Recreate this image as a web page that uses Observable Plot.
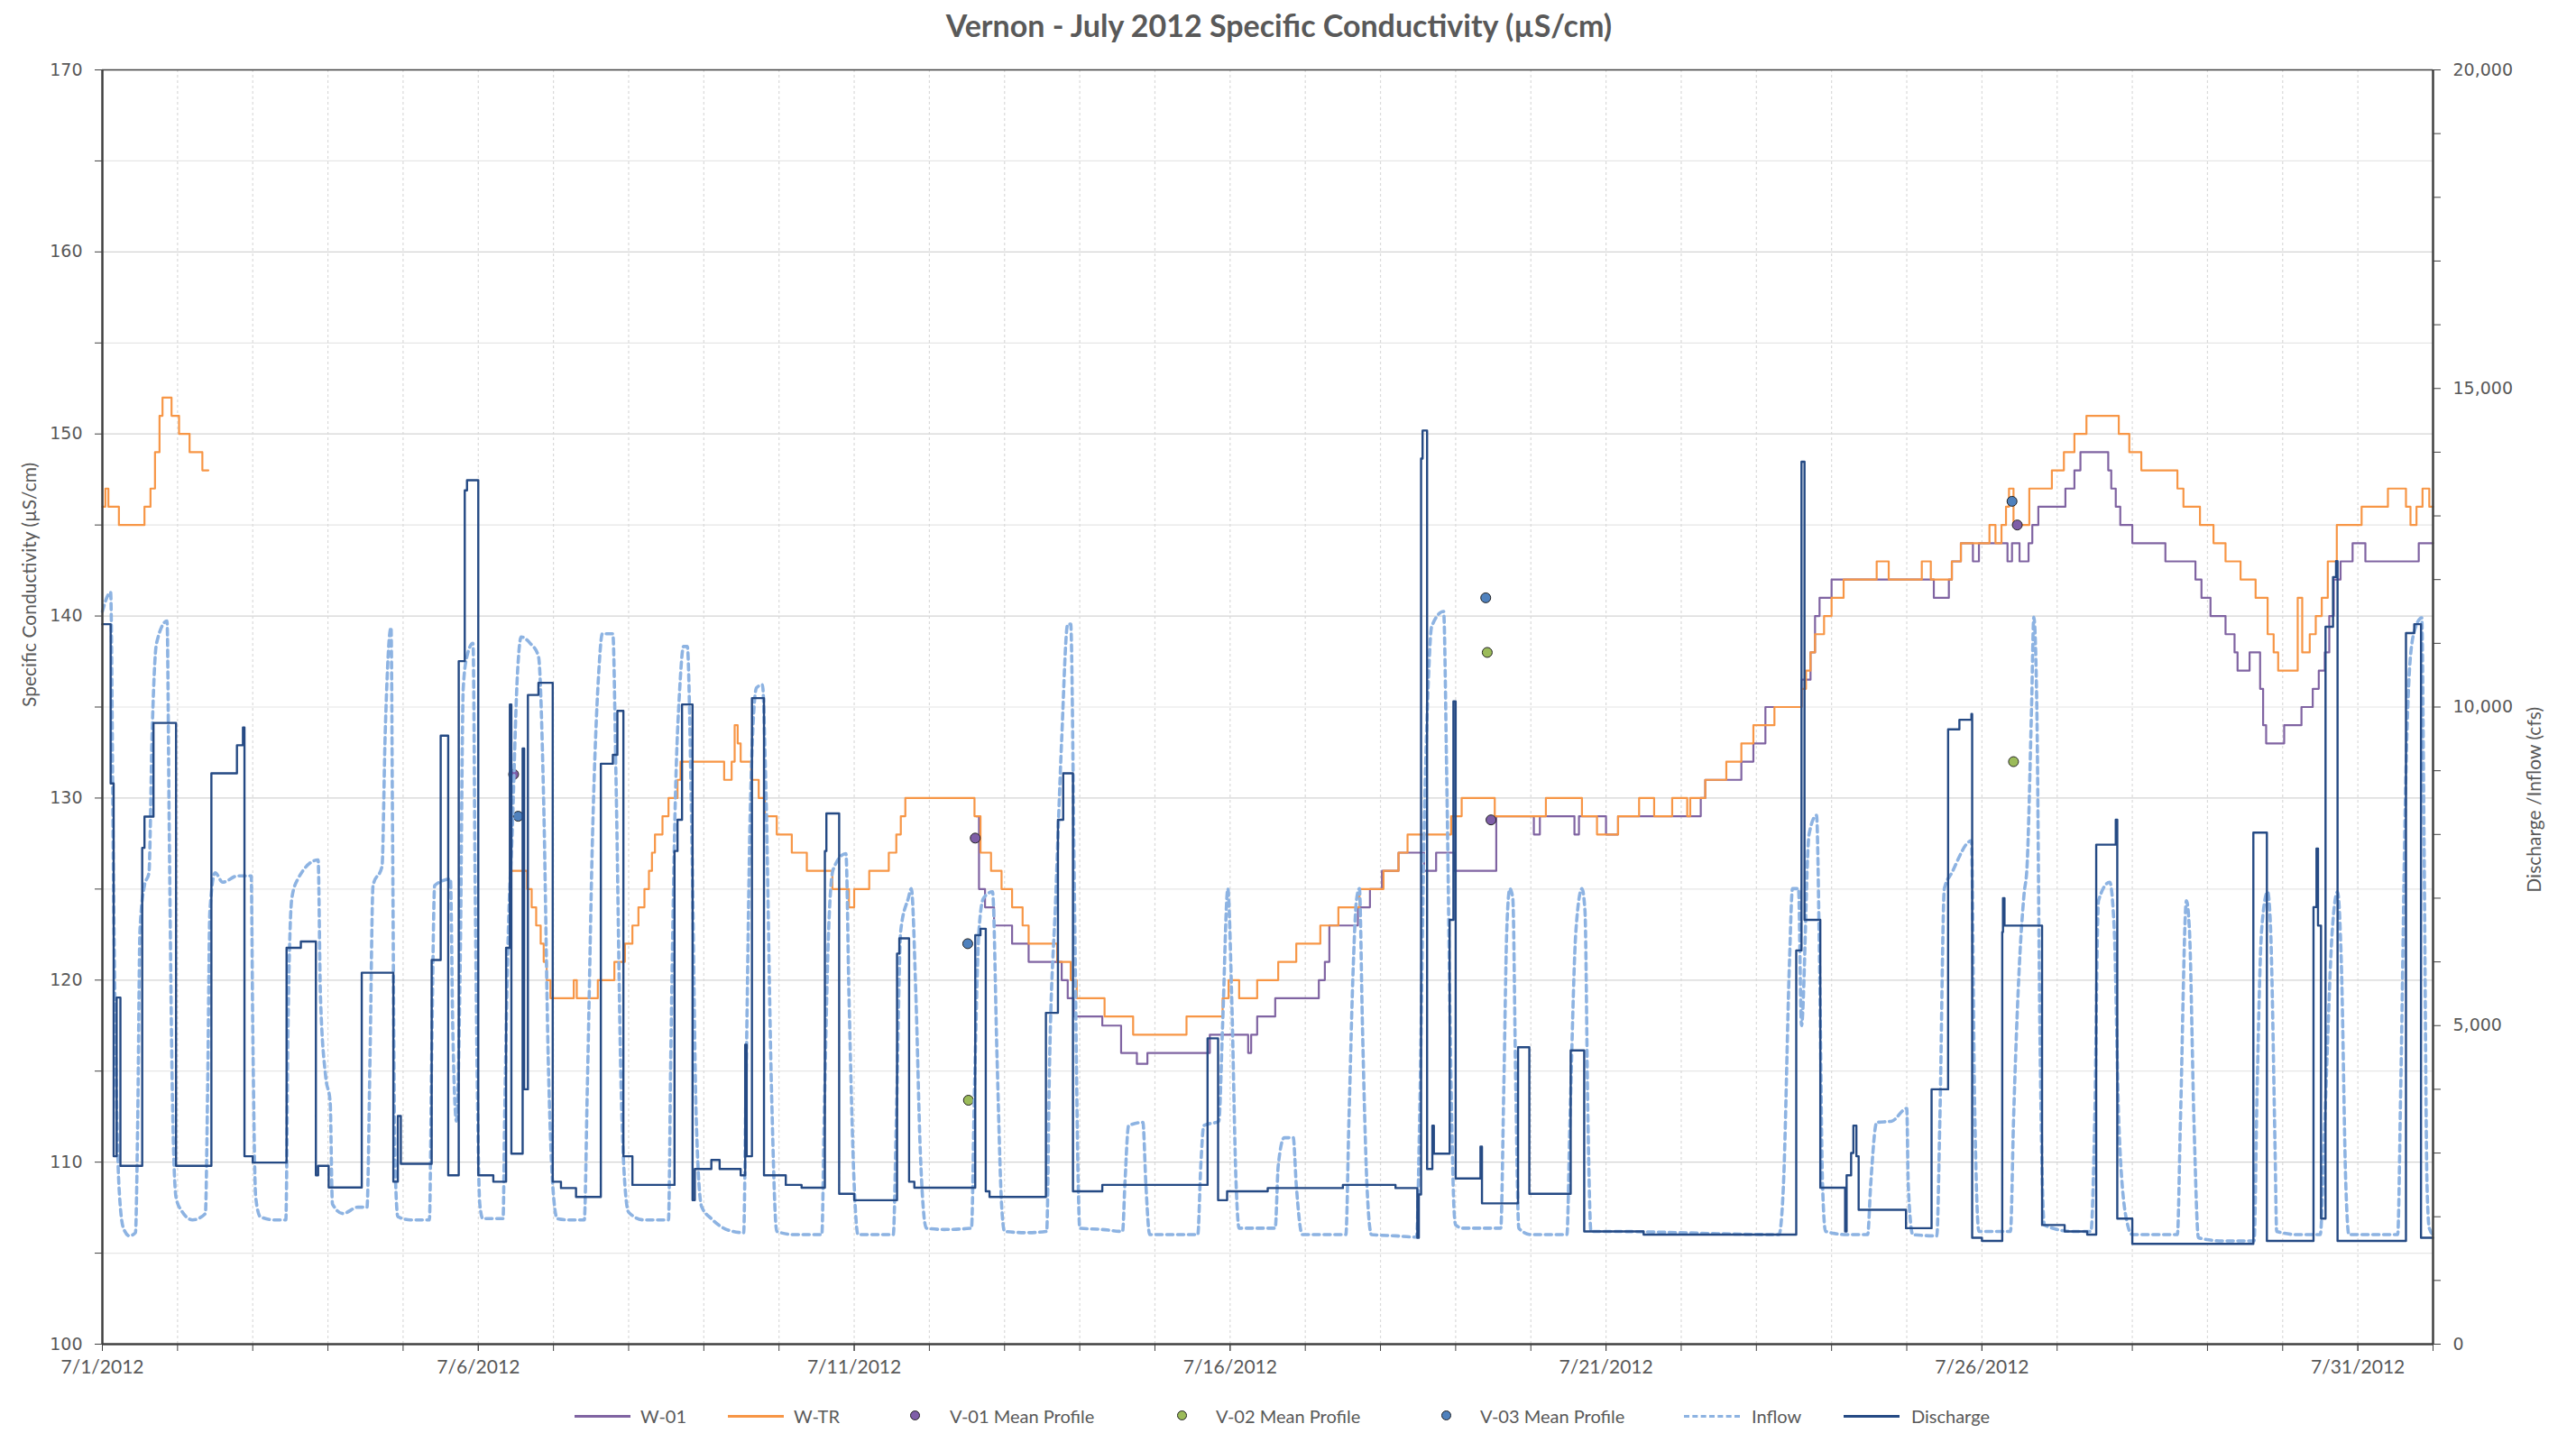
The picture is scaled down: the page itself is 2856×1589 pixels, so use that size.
<!DOCTYPE html>
<html><head><meta charset="utf-8">
<script src="https://cdn.jsdelivr.net/npm/d3@7"></script>
<script src="https://cdn.jsdelivr.net/npm/@observablehq/plot@0.6"></script>
<style>
body{margin:0;background:#fff;width:2856px;height:1589px;position:relative;overflow:hidden;font-family:Lato,"Open Sans",sans-serif;}
#title{position:absolute;left:0;top:0;width:2856px;height:55px;line-height:55px;text-align:center;font-weight:bold;font-size:34px;color:#595959;padding-right:20px;box-sizing:border-box;}
#chart{position:absolute;left:0;top:55px;}
#legend{position:absolute;left:0;top:1550px;width:2856px;height:40px;}
.li{position:absolute;top:0;height:40px;line-height:40px;font-size:20px;color:#595959;}
.sw{position:absolute;top:19px;height:0;}
.mk{position:absolute;top:14px;width:11px;height:11px;border-radius:50%;border:1px solid #222;box-sizing:border-box;}
</style></head><body>
<div id="title">Vernon - July 2012 Specific Conductivity (µS/cm)</div>
<div id="chart"></div>
<div id="legend"></div>
<script>
// ---------- data (day offset from 7/1/2012 00:00, value) ----------
const seriesNames = ["W-01","W-TR","V-01 Mean Profile","V-02 Mean Profile","V-03 Mean Profile","Inflow","Discharge"];
const xTickDays = [0,5,10,15,20,25,30];
const xTickLabels = ["7/1/2012","7/6/2012","7/11/2012","7/16/2012","7/21/2012","7/26/2012","7/31/2012"];
const leftTicks = [100,110,120,130,140,150,160,170];
const rightTicks = [0,5000,10000,15000,20000];
const leftTitle = "Specific Conductivity (µS/cm)";
const rightTitle = "Discharge /Inflow (cfs)";

// Specific conductivity, µS/cm (step series)
const wTR = [
[0,146],[0.04,147],[0.08,146],[0.22,145],[0.56,146],[0.64,147],[0.70,149],[0.76,151],[0.80,152],[0.92,151],[1.02,150],[1.16,149],[1.33,148],[1.41,148],[1.42,null],
[5.45,126],[5.65,125],[5.71,124],[5.77,123],[5.83,122],[5.87,121],[5.91,120],[5.96,119],[6.27,120],[6.31,119],[6.59,120],[6.81,121],[6.95,122],[7.05,123],[7.13,124],[7.21,125],[7.27,126],[7.31,127],[7.35,128],[7.45,129],[7.53,130],[7.65,131],[7.69,132],[8.27,131],[8.37,132],[8.41,134],[8.45,133],[8.49,132],[8.63,131],[8.73,130],[8.81,129],[8.97,128],[9.17,127],[9.37,126],[9.71,125],[9.93,124],[10.0,125],[10.2,126],[10.46,127],[10.56,128],[10.62,129],[10.68,130],[11.6,129],[11.68,127],[11.82,126],[11.96,125],[12.1,124],[12.24,123],[12.32,122],[12.7,121],[12.88,120],[12.96,119],[13.33,118],[13.71,117],[14.42,118],[14.9,119],[14.98,120],[15.12,119],[15.36,120],[15.64,121],[15.88,122],[16.2,123],[16.44,124],[16.72,125],[17.04,126],[17.24,127],[17.36,128],[17.94,129],[18.08,130],[18.52,129],[19.2,130],[19.68,129],[19.88,128],[20.16,129],[20.44,130],[20.64,129],[20.88,130],[21.08,129],[21.12,130],[21.32,131],[21.6,132],[21.8,133],[21.96,134],[22.24,135],[22.6,136],[22.66,137],[22.72,138],[22.78,139],[22.9,140],[23.0,141],[23.16,142],[23.6,143],[23.76,142],[24.2,143],[24.32,142],[24.6,143],[24.72,144],[25.1,145],[25.18,144],[25.26,145],[25.32,146],[25.36,147],[25.42,145],[25.63,147],[25.93,148],[26.09,149],[26.23,150],[26.39,151],[26.82,150],[26.96,149],[27.12,148],[27.6,147],[27.68,146],[27.9,145],[28.08,144],[28.24,143],[28.44,142],[28.64,141],[28.8,139],[28.88,138],[28.94,137],[29.2,141],[29.26,138],[29.36,139],[29.44,140],[29.52,141],[29.6,143],[29.72,145],[30.05,146],[30.4,147],[30.64,146],[30.7,145],[30.78,146],[30.86,147],[30.95,146],[31,146]
];
const w01 = [
[11.62,129],[11.66,125],[11.74,124],[11.86,123],[12.1,122],[12.32,121],[12.76,120],[12.84,119],[12.92,118],[13.3,117.5],[13.55,116],[13.76,115.4],[13.9,116],[14.73,117],[15.24,116],[15.28,117],[15.36,118],[15.6,119],[16.18,120],[16.26,121],[16.32,123],[16.7,124],[16.86,125],[17.02,126],[17.24,127],[17.58,126],[17.74,127],[17.98,126],[18.54,129],[19.04,128],[19.12,129],[19.58,128],[19.64,129],[20.0,128],[20.16,129],[21.26,130],[21.32,131],[21.8,132],[21.96,133],[22.12,135],[22.6,136.5],[22.72,138],[22.78,140],[22.84,141],[23.0,142],[24.36,141],[24.56,142],[24.6,143],[24.72,144],[24.88,143],[24.96,144],[25.34,143],[25.4,144],[25.5,143],[25.62,144],[25.67,145],[25.75,146],[26.11,147],[26.23,148],[26.31,149],[26.68,148],[26.72,147],[26.78,146],[26.84,145],[27.0,144],[27.44,143],[27.84,142],[27.92,141],[28.04,140],[28.24,139],[28.36,138],[28.4,137],[28.56,138],[28.7,136],[28.74,134],[28.78,133],[29.02,134],[29.25,135],[29.4,136],[29.48,137],[29.56,138],[29.62,140],[29.68,142],[29.77,143],[29.93,144],[30.1,143],[30.81,144],[31,144]
];
// Mean profiles, µS/cm
const v01 = [[5.47,131.3],[11.61,127.8],[18.47,128.8],[25.47,145.0]];
const v02 = [[11.52,113.4],[18.42,138.0],[25.42,132.0]];
const v03 = [[5.53,129.0],[11.51,122.0],[18.4,141.0],[25.4,146.3]];

// Flows, cfs
const discharge = [
[0,11300],[0.11,8800],[0.15,2950],[0.19,5440],[0.24,2800],[0.53,7790],[0.56,8280],[0.68,9750],[0.98,2800],[1.45,8960],[1.79,9400],[1.87,9680],[1.89,2950],[2.0,2850],[2.45,6220],[2.64,6320],[2.84,2650],[2.87,2800],[3.01,2460],[3.45,5830],[3.87,2550],[3.93,3580],[3.97,2830],[4.38,6030],[4.5,9550],[4.6,2650],[4.74,10720],[4.82,13400],[4.85,13560],[5.0,2650],[5.2,2550],[5.37,6220],[5.42,10040],[5.44,2990],[5.59,9350],[5.61,4000],[5.66,10190],[5.8,10380],[5.99,2550],[6.1,2450],[6.3,2310],[6.63,9110],[6.79,9250],[6.85,9940],[6.93,2950],[7.05,2500],[7.61,7740],[7.65,8230],[7.71,10040],[7.85,2260],[7.88,2750],[8.1,2890],[8.21,2750],[8.49,2650],[8.55,4700],[8.57,2950],[8.64,10140],[8.8,2650],[9.09,2500],[9.3,2455],[9.61,7740],[9.63,8330],[9.8,2360],[10.0,2260],[10.57,6130],[10.6,6370],[10.73,2550],[10.8,2455],[11.61,6420],[11.68,6520],[11.75,2400],[11.8,2310],[12.55,5200],[12.71,8230],[12.78,8960],[12.91,2400],[13.3,2500],[14.7,4800],[14.84,2260],[14.96,2400],[15.5,2450],[16.5,2500],[17.2,2450],[17.49,1670],[17.51,2350],[17.54,13900],[17.56,14340],[17.62,2750],[17.69,3430],[17.71,2990],[17.92,6660],[17.97,10090],[18.0,2600],[18.33,3100],[18.35,2210],[18.83,4660],[18.98,2360],[19.53,4610],[19.71,1770],[20.5,1720],[22.53,6180],[22.6,13850],[22.64,6660],[22.85,2455],[23.18,1770],[23.2,2650],[23.26,3000],[23.29,3430],[23.33,2950],[23.36,2110],[23.99,1820],[24.33,4000],[24.55,9650],[24.7,9800],[24.86,9890],[24.87,1670],[25.0,1620],[25.27,6470],[25.28,7000],[25.3,6570],[25.8,1870],[26.1,1770],[26.4,1720],[26.52,7840],[26.78,8230],[26.8,1970],[27.0,1575],[28.61,8030],[28.79,1620],[29.41,6860],[29.45,7780],[29.47,6570],[29.51,1970],[29.57,11260],[29.67,12040],[29.71,12290],[29.73,1620],[30.64,11160],[30.75,11300],[30.84,1670],[31,1670]
];
const inflow = [
[0,11500],[0.11,11800],[0.15,7000],[0.22,2500],[0.28,1820],[0.36,1700],[0.44,1750],[0.47,3500],[0.5,6500],[0.56,7200],[0.62,7400],[0.66,9500],[0.72,11000],[0.86,11350],[0.89,8000],[0.93,4000],[0.98,2300],[1.05,2100],[1.2,1950],[1.37,2050],[1.4,4000],[1.43,6800],[1.5,7400],[1.6,7250],[1.8,7350],[1.98,7350],[2.0,5000],[2.04,2300],[2.1,2000],[2.3,1950],[2.44,1950],[2.47,5000],[2.52,7000],[2.6,7300],[2.87,7600],[2.9,5500],[2.97,4200],[3.03,3800],[3.06,2200],[3.2,2050],[3.4,2150],[3.52,2150],[3.56,4500],[3.6,7200],[3.72,7500],[3.76,9500],[3.84,11250],[3.86,8000],[3.89,3000],[3.93,2000],[4.1,1950],[4.35,1950],[4.38,4500],[4.42,7200],[4.63,7300],[4.66,5000],[4.71,3500],[4.76,6000],[4.8,10300],[4.85,10800],[4.93,11000],[4.96,7000],[5.02,2200],[5.06,1970],
[5.33,1970],[5.35,3500],[5.4,6500],[5.45,8000],[5.52,10500],[5.57,11100],[5.69,11000],[5.8,10800],[5.87,8500],[5.93,4500],[5.99,2500],[6.05,1970],[6.2,1950],[6.41,1950],[6.45,4000],[6.52,8000],[6.6,10500],[6.65,11150],[6.79,11150],[6.83,9000],[6.9,4000],[6.95,2500],[7.0,2070],[7.2,1950],[7.53,1950],[7.56,4500],[7.62,8500],[7.68,10300],[7.73,10950],[7.78,10950],[7.84,8000],[7.9,3500],[7.97,2160],[8.1,1970],[8.35,1780],[8.53,1750],[8.56,4000],[8.62,8500],[8.7,10300],[8.78,10350],[8.82,9000],[8.9,4000],[8.97,1770],[9.2,1720],[9.57,1720],[9.6,3500],[9.66,6500],[9.72,7450],[9.89,7700],[9.93,5500],[10.0,2500],[10.05,1720],
[10.52,1720],[10.56,3500],[10.62,6500],[10.72,7000],[10.76,7150],[10.82,5500],[10.88,3000],[10.96,1820],[11.2,1800],[11.56,1820],[11.6,4000],[11.66,6500],[11.72,7000],[11.84,7100],[11.9,4500],[11.96,2200],[12.0,1770],[12.3,1750],[12.56,1770],[12.6,4500],[12.68,7000],[12.76,9500],[12.84,11300],[12.88,11300],[12.93,7000],[12.98,2500],[13.0,1820],[13.3,1800],[13.57,1770],[13.6,2500],[13.65,3430],[13.84,3480],[13.88,2500],[13.93,1720],[14.2,1720],[14.57,1720],[14.61,2800],[14.65,3430],[14.85,3500],[14.9,5000],[14.97,7150],[15.02,5500],[15.08,2500],[15.12,1820],
[15.6,1820],[15.64,2800],[15.72,3240],[15.84,3240],[15.88,2500],[15.96,1720],[16.3,1720],[16.54,1720],[16.58,3500],[16.64,6000],[16.68,6960],[16.72,7150],[16.76,5000],[16.82,2500],[16.88,1720],[17.2,1700],[17.48,1680],[17.52,3500],[17.58,8000],[17.64,10500],[17.68,11260],[17.84,11500],[17.88,9000],[17.94,4000],[17.98,2070],[18.0,1870],[18.1,1820],[18.6,1820],[18.64,4000],[18.68,6500],[18.72,7150],[18.76,7000],[18.8,4000],[18.84,1820],[19.0,1720],[19.48,1720],[19.52,3500],[19.6,6500],[19.68,7150],[19.72,6800],[19.76,3500],[19.8,1770],[20.0,1770],
[22.3,1720],[22.36,2500],[22.44,6000],[22.48,7150],[22.56,7150],[22.6,5000],[22.7,8000],[22.8,8300],[22.84,6000],[22.88,2500],[22.92,1770],[23.2,1720],[23.48,1720],[23.52,2500],[23.6,3480],[23.8,3500],[24.0,3700],[24.02,2500],[24.08,1720],[24.4,1700],[24.44,3500],[24.5,7150],[24.6,7400],[24.86,7900],[24.9,4000],[24.96,1770],[25.38,1770],
[25.42,3500],[25.5,6000],[25.56,7060],[25.6,7500],[25.66,10000],[25.69,11410],[25.73,10000],[25.77,5000],[25.83,1870],[26.2,1770],[26.45,1770],[26.5,3500],[26.55,6960],[26.7,7250],[26.76,6500],[26.82,3500],[26.92,1970],[27.0,1720],[27.6,1720],[27.64,3500],[27.72,6960],[27.76,6500],[27.82,3500],[27.88,1670],[28.2,1620],[28.62,1620],[28.66,4000],[28.72,6500],[28.8,7100],[28.84,6500],[28.9,3000],[28.92,1770],[29.2,1720],[29.5,1720],[29.56,3500],[29.66,6500],[29.73,7100],[29.78,6000],[29.84,2500],[29.88,1720],[30.3,1720],[30.53,1720],[30.57,4000],[30.64,9000],[30.7,10800],[30.77,11260],[30.85,11400],[30.88,8000],[30.92,2500],[30.95,1820],[31.0,1720]
];

// ---------- helpers ----------
const start = Date.UTC(2012, 6, 1);
const toDate = d => new Date(start + d * 864e5);
const flowToY = c => 100 + c * 70 / 20000;     // secondary axis -> primary scale
const yToFlow = y => (y - 100) * 20000 / 70;
const condRows = arr => arr.map(([d, v]) => ({t: toDate(d), v: v == null ? NaN : v}));
const flowRows = arr => arr.map(([d, c]) => ({t: toDate(d), v: flowToY(c)}));
const ptRows = arr => arr.map(([d, v]) => ({t: toDate(d), v}));

const allDays = d3.range(0, 32).map(toDate);
const labelMap = new Map(xTickDays.map((d, i) => [+toDate(d), xTickLabels[i]]));
const grid10 = d3.range(110, 170, 10);
const grid5 = d3.range(105, 170, 10);
const minorLeft = d3.range(105, 170, 10);
const minorRight = d3.range(0, 20001, 1000).filter(c => c % 5000 !== 0);

const colors = {w01: "#8064A2", wtr: "#F79646", v01: "#7E5EA8", v02: "#9BBB59", v03: "#4F81BD", inflow: "#8DB3E2", discharge: "#254A84"};

const chart = Plot.plot({
  width: 2856, height: 1495,
  marginTop: 22, marginBottom: 60, marginLeft: 113, marginRight: 159,
  x: {type: "utc", domain: [toDate(0), toDate(31)], label: null},
  y: {domain: [100, 170], label: null},
  style: {fontFamily: "DejaVu Sans", fontSize: "19px", color: "#595959", background: "#fff", overflow: "visible"},
  marks: [
    Plot.gridY(grid5, {stroke: "#E6E6E6", strokeOpacity: 1, strokeWidth: 1.2}),
    Plot.gridY(grid10, {stroke: "#D4D4D4", strokeOpacity: 1, strokeWidth: 1.2}),
    Plot.gridX(allDays.slice(1, 31), {stroke: "#DADADA", strokeOpacity: 1, strokeDasharray: "3,3", strokeWidth: 1.2}),
    Plot.line(condRows(w01), {x: "t", y: "v", stroke: colors.w01, strokeWidth: 2.2, curve: "step-after"}),
    Plot.line(condRows(wTR), {x: "t", y: "v", stroke: colors.wtr, strokeWidth: 2.2, curve: "step-after"}),
    Plot.dot(ptRows(v01), {x: "t", y: "v", r: 5.5, fill: colors.v01, stroke: "#222", strokeWidth: 1}),
    Plot.dot(ptRows(v02), {x: "t", y: "v", r: 5.5, fill: colors.v02, stroke: "#222", strokeWidth: 1}),
    Plot.dot(ptRows(v03), {x: "t", y: "v", r: 5.5, fill: colors.v03, stroke: "#222", strokeWidth: 1}),
    Plot.line(flowRows(inflow), {x: "t", y: "v", stroke: colors.inflow, strokeWidth: 3.6, strokeDasharray: "7,5", curve: "monotone-x"}),
    Plot.line(flowRows(discharge), {x: "t", y: "v", stroke: colors.discharge, strokeWidth: 2.4, curve: "step-after"}),
    // axes
    Plot.axisY(leftTicks, {anchor: "left", tickSize: 8, tickPadding: 14, stroke: "#404040", fill: "#595959", fontSize: 19, label: null}),
    Plot.axisY(minorLeft, {anchor: "left", tickSize: 8, tickFormat: () => "", stroke: "#404040", label: null}),
    Plot.axisY(rightTicks.map(flowToY), {anchor: "right", tickSize: 8, tickPadding: 14, stroke: "#404040", fill: "#595959", fontSize: 19, label: null,
      tickFormat: y => d3.format(",")(Math.round(yToFlow(y)))}),
    Plot.axisY(minorRight.map(flowToY), {anchor: "right", tickSize: 8, tickFormat: () => "", stroke: "#404040", label: null}),
    Plot.axisX(xTickDays.map(toDate), {anchor: "bottom", tickSize: 8, tickPadding: 10, stroke: "#404040", fill: "#595959", fontFamily: "Lato", fontSize: 21, label: null,
      tickFormat: d => labelMap.get(+d)}),
    Plot.axisX(allDays, {anchor: "bottom", tickSize: 8, tickFormat: () => "", stroke: "#404040", label: null}),
    Plot.ruleY([170], {stroke: "#404040", strokeWidth: 1.5}),
    Plot.ruleY([100], {stroke: "#404040", strokeWidth: 2.5}),
    Plot.ruleX([toDate(0), toDate(31)], {stroke: "#404040", strokeWidth: 2.5}),
    Plot.text([leftTitle], {text: d => d, frameAnchor: "left", dx: -80, rotate: -90, fontFamily: "Lato", fontSize: 21, fill: "#595959"}),
    Plot.text([rightTitle], {text: d => d, frameAnchor: "right", dx: 113, rotate: -90, fontFamily: "Lato", fontSize: 21, fill: "#595959"})
  ]
});
document.getElementById("chart").appendChild(chart);

// ---------- legend ----------
const legendItems = [
  {name: seriesNames[0], kind: "line", color: colors.w01, x: 637, tx: 710},
  {name: seriesNames[1], kind: "line", color: colors.wtr, x: 807, tx: 880},
  {name: seriesNames[2], kind: "dot", color: colors.v01, x: 1014, tx: 1053},
  {name: seriesNames[3], kind: "dot", color: colors.v02, x: 1310, tx: 1348},
  {name: seriesNames[4], kind: "dot", color: colors.v03, x: 1603, tx: 1641},
  {name: seriesNames[5], kind: "dash", color: colors.inflow, x: 1867, tx: 1942},
  {name: seriesNames[6], kind: "line", color: colors.discharge, x: 2044, tx: 2119}
];
const lg = document.getElementById("legend");
for (const it of legendItems) {
  let sw;
  if (it.kind === "dot") {
    sw = document.createElement("div");
    sw.className = "mk";
    sw.style.left = (it.x - 5.5) + "px";
    sw.style.background = it.color;
  } else {
    sw = document.createElement("div");
    sw.className = "sw";
    sw.style.left = it.x + "px";
    sw.style.width = "62px";
    sw.style.borderTop = (it.kind === "dash" ? "3px dashed " : "3px solid ") + it.color;
  }
  lg.appendChild(sw);
  const t = document.createElement("div");
  t.className = "li";
  t.style.left = it.tx + "px";
  t.textContent = it.name;
  lg.appendChild(t);
}
</script>
</body></html>
